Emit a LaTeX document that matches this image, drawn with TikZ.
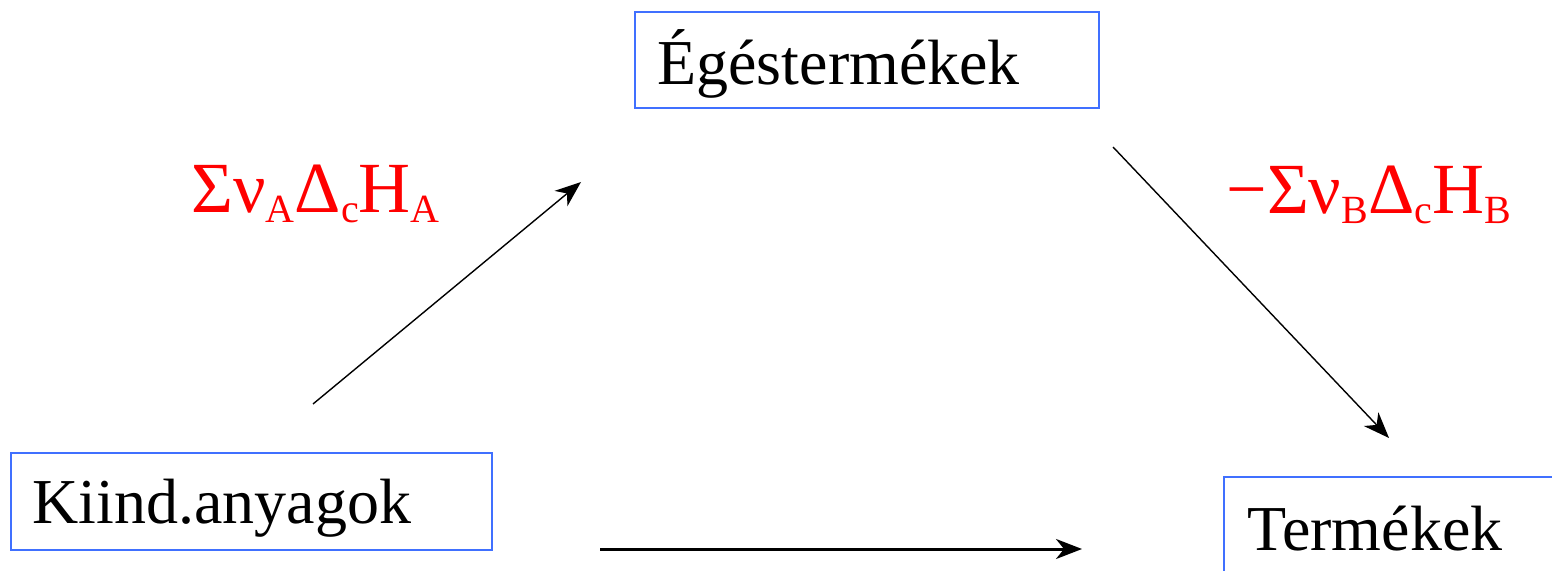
\documentclass[tikz,border=0pt]{standalone}
\usepackage{fontspec}
\setmainfont{Liberation Serif}
\usetikzlibrary{arrows.meta}
\definecolor{boxblue}{RGB}{64,112,255}
\tikzset{
  box/.style={draw=boxblue, line width=0.8pt},
  lbl/.style={anchor=base west, inner sep=0pt, font=\fontsize{32}{38}\selectfont},
  red/.style={anchor=base west, inner sep=0pt, text=red, font=\fontsize{36}{42}\selectfont},
  arr/.style={line width=0.7pt, -{Stealth[length=13pt,width=10pt,inset=4pt]}},
  arrthick/.style={line width=1.5pt, -{Stealth[length=13pt,width=10pt,inset=4pt]}}
}
\newcommand{\sbx}[1]{\lower5pt\hbox{\fontsize{20}{24}\selectfont #1}}
\begin{document}
\begin{tikzpicture}[x=0.5pt,y=-0.5pt]
\useasboundingbox (0,0) rectangle (1552,571);
\begin{scope}
\clip (0,0) rectangle (1552,571);
% boxes
\draw[box] (635,12) rectangle (1099,108);
\draw[box] (11,453) rectangle (492,550);
\draw[box] (1600,620) -- (1224,620) -- (1224,477) -- (1600,477);
\end{scope}
\node[lbl] (ege) at (657,85) {Égéstermékek};
\node[lbl] (kiind) at (32,523) {Kiind.anyagok};
\node[lbl] (term) at (1247,550) {Termékek};
\node[red] (la) at (191,213) {Σν\sbx{A}Δ\sbx{c}H\sbx{A}};
\node[red] (lb) at (1226,214) {−Σν\sbx{B}Δ\sbx{c}H\sbx{B}};
% arrow endpoints
\coordinate (a1) at (313,404);
\coordinate (a2) at (581,182);
\coordinate (b1) at (1113,147);
\coordinate (b2) at (1389,438);
\coordinate (c1) at (600,549);
\coordinate (c2) at (1082,549);
\draw[arr] (a1) -- (a2);
\draw[arr] (b1) -- (b2);
\draw[arrthick] (c1) -- (c2);
\end{tikzpicture}
\end{document}
